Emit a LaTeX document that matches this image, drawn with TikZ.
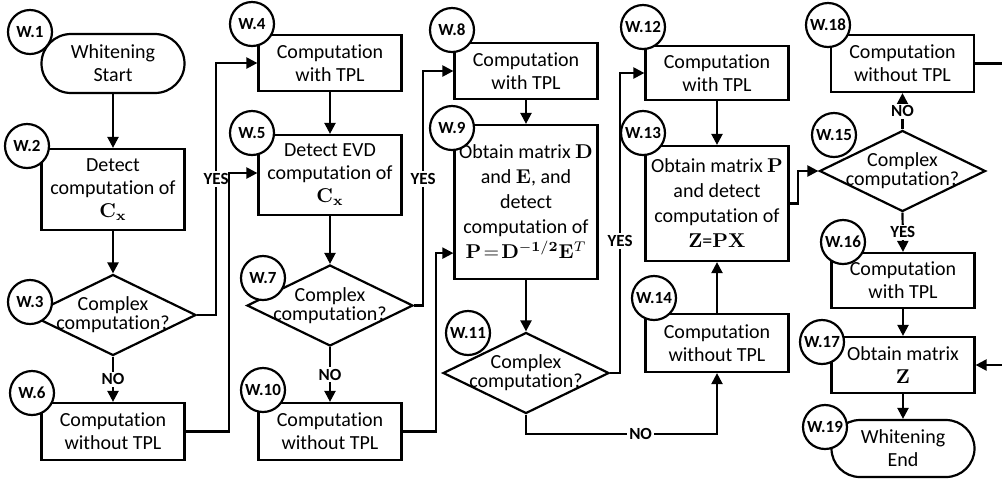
\documentclass[tikz,border=0pt]{standalone}
\usepackage[no-math]{fontspec}
\setmainfont[Ligatures=NoCommon]{Carlito}
\usetikzlibrary{shapes.geometric,shapes.misc,arrows.meta}

\begin{document}
\begin{tikzpicture}[x=0.5pt, y=-0.5pt,
  font=\fontsize{10}{11.5}\selectfont, line width=1.1pt,
  >={Triangle[length=5.5pt,width=5.5pt]},
  proc/.style={draw, rectangle, minimum width=71.5pt, inner sep=0pt, align=center},
  term/.style={draw, rounded rectangle, minimum width=71.5pt, minimum height=29.5pt, inner sep=0pt, align=center},
  decide/.style={draw, diamond, minimum width=83pt, minimum height=40.5pt, inner sep=0pt,
    label={[align=center, font=\fontsize{10}{7.5}\selectfont]center:Complex\\computation?}},
  tag/.style={draw, circle, fill=white, minimum size=22pt, inner sep=0pt, font=\bfseries\fontsize{8.5}{9}\selectfont},
  lbl/.style={fill=white, inner sep=1pt, font=\bfseries\fontsize{8.5}{9}\selectfont}]
  \clip (0,0) rectangle (1002,479);

  % first column
  \node[term] (w1) at (113,63.5) {Whitening\\Start};
  \node[proc, minimum height=40.5pt] (w2) at (113,189.5) {Detect\\computation of\\$\mathbf{C}_{\mathbf{x}}$};
  \node[decide] (w3) at (113,315) {};
  \node[proc, minimum height=28.5pt] (w6) at (113,431.5) {Computation\\without TPL};

  % second column
  \node[proc, minimum height=28pt] (w4) at (330,63) {Computation\\with TPL};
  \node[proc, minimum height=40pt] (w5) at (330,175) {Detect EVD\\computation of\\$\mathbf{C}_{\mathbf{x}}$};
  \node[decide] (w7) at (330,305.5) {};
  \node[proc, minimum height=28.5pt] (w10) at (330,431.5) {Computation\\without TPL};

  % third column
  \node[proc, minimum height=77pt, font=\fontsize{10}{12.5}\selectfont] (w9) at (526,202) {Obtain matrix $\mathbf{D}$\\and $\mathbf{E}$, and\\detect\\computation of\\$\mathbf{P}\!=\!\mathbf{D}^{-\mathbf{1/2}}\mathbf{E}^{T}$};
  \node[proc, minimum height=28pt] (w8) at (526,71) {Computation\\with TPL};
  \node[decide] (w11) at (526,373) {};

  % fourth column
  \node[proc, minimum height=27pt] (w12) at (717,73) {Computation\\with TPL};
  \node[proc, minimum height=57.5pt, font=\fontsize{10}{12.5}\selectfont] (w13) at (717,203.5) {Obtain matrix $\mathbf{P}$\\and detect\\computation of\\$\mathbf{Z}$=$\mathbf{PX}$};
  \node[proc, minimum height=29pt] (w14) at (717,343) {Computation\\without TPL};

  % fifth column
  \node[proc, minimum height=28.5pt] (w18) at (902.5,63.5) {Computation\\without TPL};
  \node[decide] (w15) at (902.5,171) {};
  \node[proc, minimum height=27.5pt] (w16) at (903,280.5) {Computation\\with TPL};
  \node[proc, minimum height=28pt] (w17) at (903,365) {Obtain matrix\\$\mathbf{Z}$};
  \node[term, minimum height=28.5pt] (w19) at (903,448.5) {Whitening\\End};

  % connectors
  \draw[->] (w1.south) -- (w2.north);
  \draw[->] (w2.south) -- (w3.north);
  \draw[->] (w3.south) -- node[lbl] {NO} (w6.north);
  \draw[->] (w3.east) -- ++(19,0) |- node[lbl, pos=0.27] {YES} (w4.west);
  \draw[->] (w6.east) -- ++(43,0) |- ([yshift=1pt]w5.west);
  \draw[->] (w4.south) -- (w5.north);
  \draw[->] (w5.south) -- (w7.north);
  \draw[->] (w7.south) -- node[lbl] {NO} (w10.north);
  \draw[->] (w7.east) -- ++(9,0) |- node[lbl, pos=0.27] {YES} (w8.west);
  \draw[->] (w10.east) -- ++(33,0) |- ([yshift=13.5pt]w9.south west);
  \draw[->] (w8.south) -- (w9.north);
  \draw[->] (w9.south) -- (w11.north);
  \draw[->] (w11.east) -- ++(10,0) |- node[lbl, pos=0.22] {YES} (w12.west);
  \draw[->] (w11.south) -- ++(0,19) -| node[lbl, pos=0.3] {NO} (w14.south);
  \draw[->] (w12.south) -- (w13.north);
  \draw[->] (w14.north) -- (w13.south);
  \draw[->] (w13.east) -- ++(8,0) |- (w15.west);
  \draw[->] (w15.north) -- node[lbl] {NO} (w18.south);
  \draw[->] (w15.south) -- node[lbl] {YES} (w16.north);
  \draw[->] (w16.south) -- (w17.north);
  \draw[->] (w17.south) -- (w19.north);
  \draw[->] (w18.east) -- ++(40,0) |- (w17.east);

  % step tags
  \node[tag] (t1) at (30,32) {W.1};
  \node[tag] (t2) at (27,146) {W.2};
  \node[tag] (t3) at (30,302) {W.3};
  \node[tag] (t6) at (32,393) {W.6};
  \node[tag] (t4) at (252,24) {W.4};
  \node[tag] (t5) at (252,133) {W.5};
  \node[tag] (t7) at (263,278) {W.7};
  \node[tag] (t10) at (263,390) {W.10};
  \node[tag] (t8) at (452,30) {W.8};
  \node[tag] (t9) at (452,128) {W.9};
  \node[tag] (t11) at (468,333) {W.11};
  \node[tag] (t12) at (643,27) {W.12};
  \node[tag] (t13) at (643,133) {W.13};
  \node[tag] (t14) at (654,298) {W.14};
  \node[tag] (t18) at (828,25) {W.18};
  \node[tag] (t15) at (834,135) {W.15};
  \node[tag] (t16) at (843,242) {W.16};
  \node[tag] (t17) at (822,342) {W.17};
  \node[tag] (t19) at (825,427) {W.19};
\end{tikzpicture}
\end{document}
